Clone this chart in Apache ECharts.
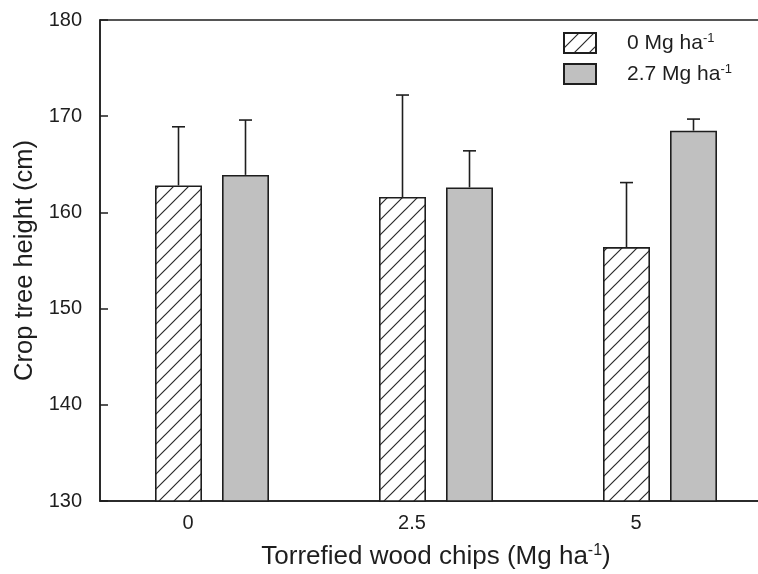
<!DOCTYPE html>
<html><head><meta charset="utf-8">
<script src="https://cdn.jsdelivr.net/npm/echarts@6/dist/echarts.min.js"></script>
<style>html,body{margin:0;padding:0;background:#fff}#c{width:758px;height:574px}</style>
</head><body><div id="c"></div>
<script>
const categories = ['0', '2.5', '5'];
const seriesNames = ['0 Mg ha', '2.7 Mg ha'];
const heights0 = [162.8, 161.6, 156.4];
const errors0 = [6.1, 10.6, 6.7];
const heights27 = [163.9, 162.6, 168.5];
const errors27 = [5.7, 3.8, 1.2];
const yTicks = [130, 140, 150, 160, 170, 180];

const FONT = '"Liberation Sans", Arial, sans-serif';
const INK = '#1e1e1e';
const BAR_W = 47, BAR_GAP = 20;

function hatch() {
  const s = 15, c = document.createElement('canvas');
  c.width = s; c.height = s;
  const g = c.getContext('2d');
  g.fillStyle = '#fff'; g.fillRect(0, 0, s, s);
  g.strokeStyle = '#2a2a2a'; g.lineWidth = 1.2;
  g.beginPath();
  g.moveTo(0, s); g.lineTo(s, 0);
  g.moveTo(-s / 2, s / 2); g.lineTo(s / 2, -s / 2);
  g.moveTo(s / 2, s * 1.5); g.lineTo(s * 1.5, s / 2);
  g.stroke();
  return c;
}

function errSeries(values, errs, sign) {
  return {
    type: 'custom', z: 1,
    data: values.map((v, i) => [i, v, v + errs[i]]),
    renderItem(params, api) {
      const off = sign * (BAR_W + BAR_GAP) / 2;
      const p0 = api.coord([api.value(0), api.value(1)]);
      const p1 = api.coord([api.value(0), api.value(2)]);
      const x = p0[0] + off;
      const st = { stroke: INK, lineWidth: 1.6 };
      return { type: 'group', children: [
        { type: 'line', shape: { x1: x, y1: p0[1], x2: x, y2: p1[1] }, style: st },
        { type: 'line', shape: { x1: x - 6.5, y1: p1[1], x2: x + 6.5, y2: p1[1] }, style: st }
      ]};
    }
  };
}

const sup = (size, lh) => ({ fontSize: size, fontFamily: FONT, color: INK, lineHeight: lh, verticalAlign: 'top' });

const chart = echarts.init(document.getElementById('c'));
chart.setOption({
  animation: false,
  backgroundColor: '#fff',
  grid: { left: 100, width: 672, top: 20, height: 481, show: true, borderColor: INK, borderWidth: 1.5,
          containLabel: false, outerBoundsMode: 'none' },
  legend: {
    orient: 'vertical', left: 563, top: 32, padding: 0, icon: 'rect',
    itemWidth: 32, itemHeight: 20, itemGap: 9,
    data: seriesNames,
    formatter: n => '{t|' + n + '}{s|-1}',
    textStyle: {
      fontFamily: FONT, color: INK,
      rich: {
        t: { fontSize: 21, fontFamily: FONT, color: INK, lineHeight: 22, padding: [0, 0, 0, 26] },
        s: sup(13, 13)
      }
    }
  },
  xAxis: {
    type: 'category', data: categories,
    axisLine: { lineStyle: { color: INK, width: 1.5 } },
    axisTick: { show: false },
    axisLabel: {
      margin: 12, color: INK, fontSize: 20, fontFamily: FONT,
      formatter: v => '{a|' + v + '}',
      rich: { a: { fontSize: 20, fontFamily: FONT, color: INK, padding: [0, 48, 0, 0] } }
    },
    name: '{t|Torrefied wood chips (Mg ha}{s|-1}{t|)}',
    nameLocation: 'middle', nameGap: 42,
    nameTextStyle: {
      rich: {
        t: { fontSize: 26, fontFamily: FONT, color: INK, lineHeight: 28 },
        s: sup(16, 16)
      }
    }
  },
  yAxis: {
    type: 'value', min: yTicks[0], max: yTicks[yTicks.length - 1], interval: 10,
    axisLine: { show: true, lineStyle: { color: INK, width: 1.5 } },
    axisTick: { show: true, inside: true, length: 8, lineStyle: { color: INK, width: 1.5 } },
    splitLine: { show: false },
    axisLabel: { margin: 18, color: INK, fontSize: 20, fontFamily: FONT },
    name: 'Crop tree height (cm)', nameLocation: 'middle', nameGap: 60,
    nameTextStyle: { fontSize: 25.5, fontFamily: FONT, color: INK }
  },
  series: [
    { name: seriesNames[0], type: 'bar', data: heights0, barWidth: BAR_W, barGap: (BAR_GAP / BAR_W * 100) + '%',
      itemStyle: { color: { image: hatch(), repeat: 'repeat' }, borderColor: INK, borderWidth: 1.6 } },
    { name: seriesNames[1], type: 'bar', data: heights27, barWidth: BAR_W,
      itemStyle: { color: '#c0c0c0', borderColor: INK, borderWidth: 1.6 } },
    errSeries(heights0, errors0, -1),
    errSeries(heights27, errors27, 1)
  ]
});
</script></body></html>
